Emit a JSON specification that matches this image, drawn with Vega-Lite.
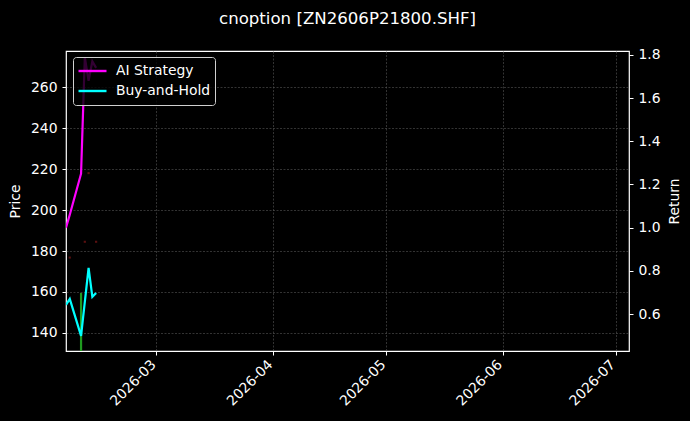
{
  "$schema": "https://vega.github.io/schema/vega-lite/v6.json",
  "description": "cnoption ZN2606P21800.SHF price candles with strategy vs buy-and-hold return",
  "background": "black",
  "autosize": "none",
  "width": 563,
  "height": 300,
  "padding": {"left": 66, "top": 51, "right": 61, "bottom": 70},
  "title": {
    "text": "cnoption [ZN2606P21800.SHF]",
    "color": "white",
    "font": "DejaVu Sans",
    "fontSize": 16.6,
    "fontWeight": "normal",
    "anchor": "middle",
    "offset": 20
  },
  "datasets": {
    "candles": [
      {"date": "2026-02-06T00:00:00Z", "open": 177.3, "close": 176.3, "dir": "down"},
      {"date": "2026-02-09T00:00:00Z", "open": 118.0, "close": 159.5, "dir": "up"},
      {"date": "2026-02-10T00:00:00Z", "open": 185.0, "close": 184.0, "dir": "down"},
      {"date": "2026-02-11T00:00:00Z", "open": 218.5, "close": 217.5, "dir": "down"},
      {"date": "2026-02-13T00:00:00Z", "open": 185.0, "close": 184.0, "dir": "down"}
    ],
    "returns": [
      {"date": "2026-02-05T00:00:00Z", "series": "AI Strategy", "value": 1.0},
      {"date": "2026-02-06T00:00:00Z", "series": "AI Strategy", "value": 1.06},
      {"date": "2026-02-09T00:00:00Z", "series": "AI Strategy", "value": 1.25},
      {"date": "2026-02-10T00:00:00Z", "series": "AI Strategy", "value": 1.79},
      {"date": "2026-02-11T00:00:00Z", "series": "AI Strategy", "value": 1.68},
      {"date": "2026-02-12T00:00:00Z", "series": "AI Strategy", "value": 1.77},
      {"date": "2026-02-13T00:00:00Z", "series": "AI Strategy", "value": 1.74},
      {"date": "2026-02-05T00:00:00Z", "series": "Buy-and-Hold", "value": 0.643},
      {"date": "2026-02-06T00:00:00Z", "series": "Buy-and-Hold", "value": 0.67},
      {"date": "2026-02-09T00:00:00Z", "series": "Buy-and-Hold", "value": 0.499},
      {"date": "2026-02-10T00:00:00Z", "series": "Buy-and-Hold", "value": 0.657},
      {"date": "2026-02-11T00:00:00Z", "series": "Buy-and-Hold", "value": 0.814},
      {"date": "2026-02-12T00:00:00Z", "series": "Buy-and-Hold", "value": 0.68},
      {"date": "2026-02-13T00:00:00Z", "series": "Buy-and-Hold", "value": 0.698}
    ]
  },
  "encoding": {
    "x": {
      "field": "date",
      "type": "temporal",
      "scale": {
        "type": "utc",
        "padding": 0,
        "domain": [
          {"year": 2026, "month": 2, "date": 5, "utc": true},
          {"year": 2026, "month": 7, "date": 4, "hours": 14, "utc": true}
        ]
      },
      "axis": {
        "title": null,
        "format": "%Y-%m",
        "values": [
          {"year": 2026, "month": 3, "date": 1, "utc": true},
          {"year": 2026, "month": 4, "date": 1, "utc": true},
          {"year": 2026, "month": 5, "date": 1, "utc": true},
          {"year": 2026, "month": 6, "date": 1, "utc": true},
          {"year": 2026, "month": 7, "date": 1, "utc": true}
        ],
        "labelAngle": -45,
        "labelAlign": "right",
        "labelBaseline": "alphabetic",
        "labelPadding": 10
      }
    }
  },
  "layer": [
    {
      "data": {"name": "candles"},
      "encoding": {
        "y": {
          "field": "open",
          "type": "quantitative",
          "scale": {"domain": [131.2, 277.6], "nice": false, "zero": false},
          "axis": {
            "title": "Price",
            "orient": "left",
            "values": [140, 160, 180, 200, 220, 240, 260],
            "labelPadding": 5,
            "titlePadding": 8
          }
        },
        "y2": {"field": "close"}
      },
      "layer": [
        {
          "transform": [{"filter": "datum.dir === 'up'"}],
          "mark": {"type": "bar", "width": 2.2, "color": "#1f9a1f", "clip": true}
        },
        {
          "transform": [{"filter": "datum.dir === 'down'"}],
          "mark": {"type": "bar", "width": 2.2, "color": "#5a1010", "clip": true}
        }
      ]
    },
    {
      "data": {"name": "returns"},
      "mark": {"type": "line", "strokeWidth": 2.2, "clip": true},
      "encoding": {
        "y": {
          "field": "value",
          "type": "quantitative",
          "scale": {"domain": [0.429, 1.818], "nice": false, "zero": false},
          "axis": {
            "title": "Return",
            "orient": "right",
            "values": [0.6, 0.8, 1.0, 1.2, 1.4, 1.6, 1.8],
            "format": ".1f",
            "labelPadding": 5,
            "titleAngle": 270,
            "titleBaseline": "top",
            "titlePadding": 7
          }
        },
        "color": {
          "field": "series",
          "type": "nominal",
          "scale": {"domain": ["AI Strategy", "Buy-and-Hold"], "range": ["#ff00ff", "#00ffff"]},
          "legend": {
            "title": null,
            "orient": "none",
            "legendX": 7,
            "legendY": 6,
            "symbolType": "stroke",
            "symbolStrokeWidth": 2.4,
            "symbolSize": 784,
            "clipHeight": 20,
            "rowPadding": 0,
            "labelOffset": 8,
            "padding": 4,
            "fillColor": "rgba(0,0,0,0.8)",
            "strokeColor": "#d0d0d0",
            "cornerRadius": 3,
            "labelColor": "white",
            "labelFont": "DejaVu Sans",
            "labelFontSize": 13.9
          }
        }
      }
    }
  ],
  "resolve": {"scale": {"y": "independent", "color": "independent"}},
  "config": {
    "view": {"fill": "black", "stroke": "white", "strokeWidth": 1.2},
    "axis": {
      "domain": false,
      "grid": true,
      "gridColor": "#555555",
      "gridDash": [2, 1.5],
      "gridWidth": 0.6,
      "tickColor": "white",
      "tickSize": 4,
      "labelColor": "white",
      "labelFont": "DejaVu Sans",
      "labelFontSize": 13.9,
      "titleColor": "white",
      "titleFont": "DejaVu Sans",
      "titleFontSize": 13.9,
      "titleFontWeight": "normal"
    }
  }
}
